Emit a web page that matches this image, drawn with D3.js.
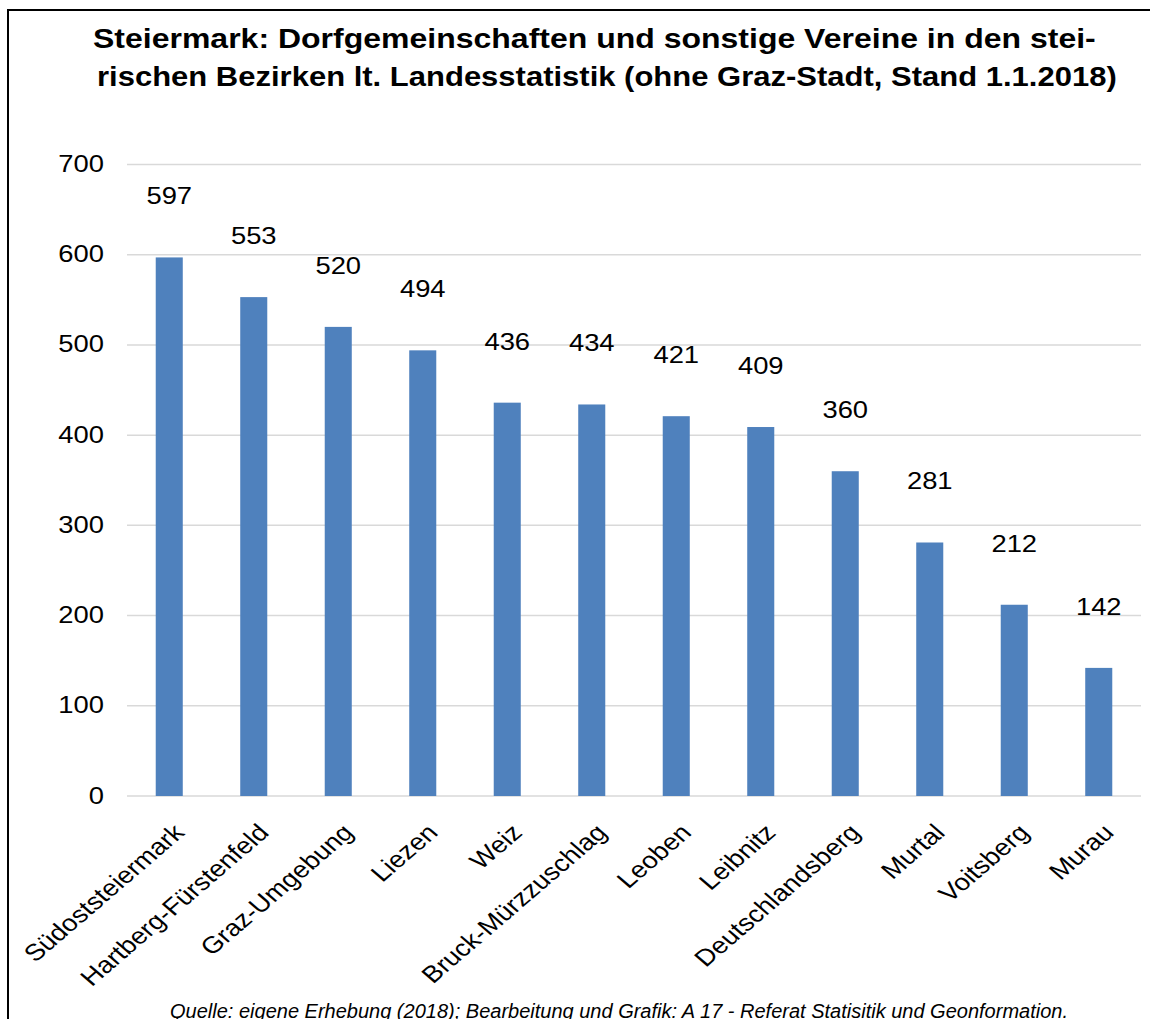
<!DOCTYPE html>
<html><head><meta charset="utf-8">
<script src="https://cdn.jsdelivr.net/npm/d3@7"></script>
<style>
html,body{margin:0;padding:0;background:#fff;}
svg{display:block;font-family:"Liberation Sans",Arial,sans-serif;}
</style></head>
<body>
<svg id="chart" width="1150" height="1019"></svg>
<script>
const categories = ["Südoststeiermark","Hartberg-Fürstenfeld","Graz-Umgebung","Liezen","Weiz","Bruck-Mürzzuschlag","Leoben","Leibnitz","Deutschlandsberg","Murtal","Voitsberg","Murau"];
const values = [597,553,520,494,436,434,421,409,360,281,212,142];
const yTicks = [0,100,200,300,400,500,600,700];
const titleLines = ["Steiermark: Dorfgemeinschaften und sonstige Vereine in den stei-","rischen Bezirken lt. Landesstatistik (ohne Graz-Stadt, Stand 1.1.2018)"];
const sourceText = "Quelle: eigene Erhebung (2018); Bearbeitung und Grafik: A 17 - Referat Statisitik und Geonformation.";

const svg = d3.select("#chart");
const W = 1150, H = 1019;
const plot = {left:127, right:1141, top:164.5, bottom:796};
const SX = 1.165; // horizontal glyph stretch seen in the reference
const titleSpans = [[94,1097],[98,1118]];

// frame
svg.append("path").attr("d", `M8,${H+5} L8,10 L${W+5},10`).attr("fill","none").attr("stroke","#000").attr("stroke-width",2);

const x = d3.scaleBand().domain(categories).range([plot.left, plot.right]).paddingInner(0.68).paddingOuter(0.34);
const y = d3.scaleLinear().domain([0,700]).range([plot.bottom, plot.top]);

// gridlines
svg.append("g").selectAll("line").data(yTicks).join("line")
  .attr("x1", plot.left).attr("x2", plot.right)
  .attr("y1", d=>y(d)).attr("y2", d=>y(d))
  .attr("stroke","#d9d9d9").attr("stroke-width",1.5);

// y axis labels
const yAxis = d3.axisLeft(y).tickValues(yTicks).tickSize(0).tickPadding(0);
const gy = svg.append("g").attr("transform",`translate(104,0)`).call(yAxis);
gy.select(".domain").remove();
gy.selectAll(".tick").each(function(d){
  d3.select(this).attr("transform",`translate(0,${y(d)}) scale(${SX},1)`);
});
gy.selectAll("text").attr("font-size",23.5).attr("fill","#000").attr("font-family","Liberation Sans, Arial, sans-serif");

// bars
svg.append("g").selectAll("rect").data(values).join("rect")
  .attr("x",(d,i)=>x(categories[i]))
  .attr("width",x.bandwidth())
  .attr("y",d=>y(d))
  .attr("height",d=>y(0)-y(d))
  .attr("fill","#4f81bd");

// value labels
svg.append("g").selectAll("text").data(values).join("text")
  .attr("transform",(d,i)=>`translate(${x(categories[i])+x.bandwidth()/2},${y(d)-53}) scale(${SX},1)`)
  .attr("text-anchor","middle")
  .attr("font-size",23.5)
  .attr("fill","#000")
  .text(d=>d);

// x labels
svg.append("g").selectAll("text").data(categories).join("text")
  .attr("transform",d=>`translate(${x(d)+x.bandwidth()/2+16.5},834) scale(${SX},1) rotate(-45)`)
  .attr("text-anchor","end")
  .attr("font-size",23.5)
  .attr("fill","#000")
  .text(d=>d);

// title
svg.append("g").selectAll("text").data(titleLines).join("text")
  .attr("font-size",27.5).attr("font-weight","bold").attr("fill","#000")
  .attr("text-anchor","start")
  .text(d=>d)
  .each(function(d,i){
    const w = this.getComputedTextLength();
    const span = titleSpans[i];
    const s = (span[1]-span[0]) / w;
    d3.select(this).attr("transform",`translate(${span[0]-1},${48+i*38}) scale(${s},1)`);
  });

// source
svg.append("text").attr("x",619).attr("y",1018)
  .attr("text-anchor","middle").attr("font-style","italic")
  .attr("font-size",20).attr("fill","#000")
  .text(sourceText);
</script>
</body></html>
